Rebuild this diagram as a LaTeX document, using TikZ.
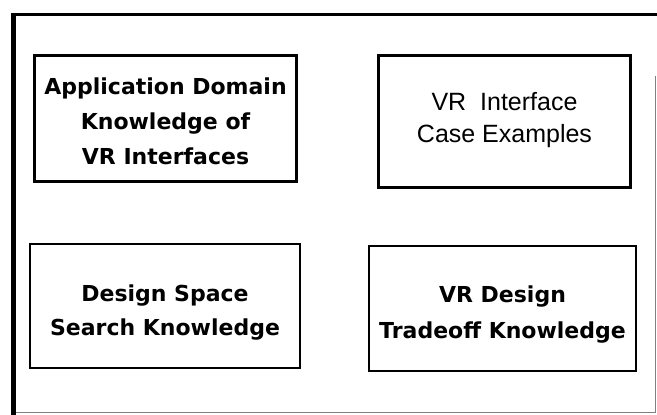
\documentclass[tikz,border=0pt]{standalone}
\usepackage{fontspec}
\newfontfamily\knowfont{DejaVu Sans}[BoldFont={DejaVu Sans Bold}]
\newfontfamily\casefont{Liberation Sans}
% invisible rules fixing the height of the first line and depth of the last
\newcommand{\toprule}[1]{\rule{0pt}{#1pt}}
\newcommand{\botrule}[1]{\rule[-#1pt]{0pt}{#1pt}}
\begin{document}
\begin{tikzpicture}[x=1pt,y=-1pt,
  kbox/.style={draw=black, line width=2.8pt, fill=white, align=center,
    inner sep=0pt},
  boldtxt/.style={font=\knowfont\bfseries\fontsize{22}{#1}\selectfont},
  boldtxt/.default=35,
  plaintxt/.style={font=\casefont\fontsize{25}{32}\selectfont}]
  % page area
  \useasboundingbox (0,0) rectangle (657,415);
  \fill[white] (0,0) rectangle (657,415);
  % outer frame: heavy top and left edges, light right and bottom edges
  \draw[line width=3.2pt] (11,14.6) -- (657,14.6);
  \draw[line width=4.5pt] (13.5,12.8) -- (13.5,415);
  \draw[line width=0.8pt, black!50] (655,76) -- (655,412) -- (16,412);
  % knowledge boxes
  \node[kbox, boldtxt=35, minimum width=262pt, minimum height=126pt]
    (appdomain) at (165.5,118.5)
    {\toprule{30}Application Domain\\Knowledge of\\VR Interfaces\botrule{9}};
  \node[kbox, plaintxt, minimum width=252pt, minimum height=132pt]
    (cases) at (504.5,121.5)
    {\toprule{25}VR\ \ Interface\\Case Examples\botrule{16}};
  \node[kbox, boldtxt=33.5, minimum width=270pt, minimum height=124pt]
    (search) at (165,306)
    {\toprule{35}Design Space\\Search Knowledge\botrule{9.6}};
  \node[kbox, boldtxt=36, minimum width=267pt, minimum height=125pt]
    (tradeoff) at (502.5,308.5)
    {\toprule{32}VR Design\\Tradeoff Knowledge\botrule{9}};
\end{tikzpicture}
\end{document}
